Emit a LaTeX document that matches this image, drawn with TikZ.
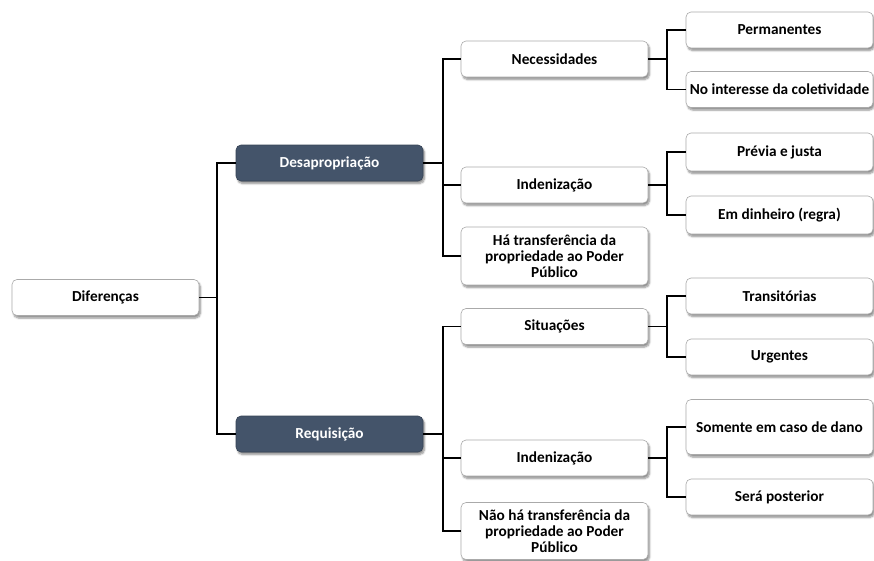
\documentclass[tikz,border=0pt]{standalone}
\usepackage{fontspec}
\setmainfont{Carlito}
\usetikzlibrary{shadows.blur}
\definecolor{slate}{RGB}{68,84,106}
\definecolor{rim}{RGB}{170,170,170}
\begin{document}
\begin{tikzpicture}[x=1pt,y=-1pt,
  box/.style={rectangle, rounded corners=5pt, minimum width=187pt, minimum height=36pt,
    inner sep=1pt, align=center, font=\fontsize{15.3}{16}\selectfont\bfseries,
    blur shadow={shadow xshift=1.5pt, shadow yshift=-2.5pt, shadow blur steps=6, shadow opacity=45}},
  light/.style={box, draw=rim, line width=0.6pt, fill=white, text=black},
  dark/.style={box, draw=slate!80!black, line width=0.6pt, fill=slate, text=white},
  conn/.style={draw=black, line width=1.7pt}]
\useasboundingbox (0,0) rectangle (874,560);

% root
\node[light] (dif) at (105.5,297.5) {Diferenças};

% main branches
\node[dark] (desap) at (329.5,163) {Desapropriação};
\node[dark] (req) at (329.5,434) {Requisição};

% Desapropriação children
\node[light] (nec) at (554.5,59) {Necessidades};
\node[light] (ind1) at (554.5,185) {Indenização};
\node[light, minimum height=58pt] (hatr) at (554.5,256) {Há transferência da\\propriedade ao Poder\\Público};

% Requisição children
\node[light] (sit) at (554.5,326.5) {Situações};
\node[light] (ind2) at (554.5,458) {Indenização};
\node[light, minimum height=57pt] (naotr) at (554.5,531) {Não há transferência da\\propriedade ao Poder\\Público};

% leaves
\node[light] (perm) at (779.5,30) {Permanentes};
\node[light] (col) at (779.5,89.5) {No interesse da coletividade};
\node[light, minimum height=38pt] (prev) at (779.5,152) {Prévia e justa};
\node[light, minimum height=38pt] (din) at (779.5,215) {Em dinheiro (regra)};
\node[light] (trans) at (779.5,296) {Transitórias};
\node[light] (urg) at (779.5,357) {Urgentes};
\node[light, minimum height=55pt] (dano) at (779.5,427) {Somente em caso de dano};
\node[light] (post) at (779.5,497) {Será posterior};

% connectors
\draw[conn] (dif.east) -- ++(19,0);
\draw[conn] (desap.west) -- ++(-19,0) |- (req.west);

\draw[conn] (desap.east) -- ++(20,0);
\draw[conn] (nec.west) -- ++(-18,0) |- (hatr.west);
\draw[conn] (ind1.west) -- ++(-18,0);

\draw[conn] (req.east) -- ++(20,0);
\draw[conn] (sit.west) -- ++(-18,0) |- (naotr.west);
\draw[conn] (ind2.west) -- ++(-18,0);

\draw[conn] (nec.east) -- ++(19,0);
\draw[conn] (perm.west) -- ++(-19,0) |- (col.west);
\draw[conn] (ind1.east) -- ++(19,0);
\draw[conn] (prev.west) -- ++(-19,0) |- (din.west);
\draw[conn] (sit.east) -- ++(19,0);
\draw[conn] (trans.west) -- ++(-19,0) |- (urg.west);
\draw[conn] (ind2.east) -- ++(19,0);
\draw[conn] (dano.west) -- ++(-19,0) |- (post.west);
\end{tikzpicture}
\end{document}
